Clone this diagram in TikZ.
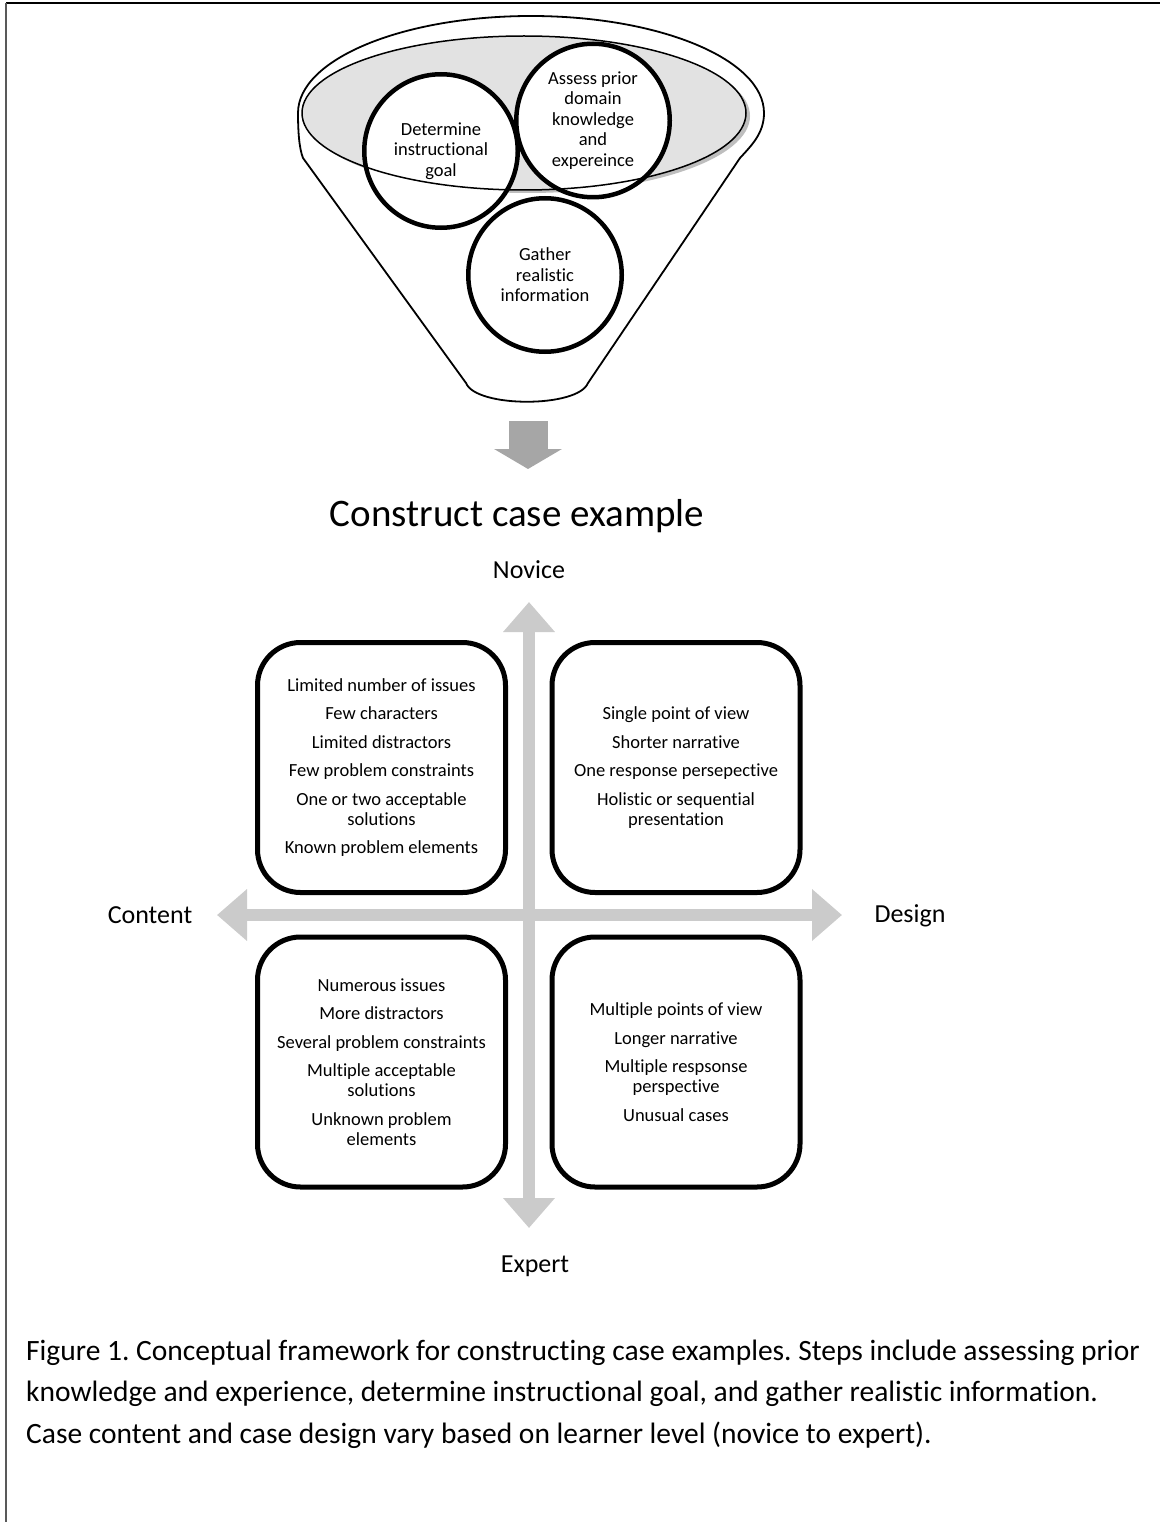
\documentclass[tikz,border=0pt]{standalone}
\usepackage{fontspec}
\setmainfont{Carlito}[Ligatures=NoCommon,Contextuals=NoAlternate]
\usetikzlibrary{arrows.meta}
\definecolor{rimgray}{HTML}{E2E2E2}
\definecolor{rimshadow}{HTML}{BEBEBE}
\definecolor{pourgray}{HTML}{A6A6A6}
\definecolor{axisgray}{HTML}{CBCBCB}
\frenchspacing
\tikzset{
  stepcircle/.style={circle,draw=black,line width=4.5pt,fill=white,minimum size=153.5pt,
    inner sep=0pt,align=center,font=\fontsize{18.5}{20.5}\selectfont},
  quadbox/.style={rectangle,rounded corners=43pt,draw=black,line width=5pt,minimum width=248pt,
    minimum height=250pt,inner sep=0pt,align=center,font=\fontsize{18.5}{20}\selectfont},
  axislabel/.style={anchor=base,inner sep=0pt,font=\fontsize{26}{30}\selectfont},
  axisarrow/.style={axisgray,line width=12pt,
    {Triangle[length=30pt 0 0,width=50pt 0 0]}-{Triangle[length=30pt 0 0,width=50pt 0 0]}},
  pourarrow/.style={pourgray,line width=39pt,-{Triangle[length=20pt 0 0,width=67pt 0 0]}}
}
\begin{document}
\begin{tikzpicture}[x=1pt,y=-1pt]
\useasboundingbox (0,0) rectangle (1160,1522);
%\draw[step=100,gray,very thin] (0,0) grid (1160,1522);
% page frame
\draw[line width=2pt] (6,3) -- (1160,3);
\draw[line width=2pt,black!65] (6,3) -- (6,1522);
% funnel
\draw[line width=1.8pt,fill=white] (298,113) .. controls (298,59.4) and (402.3,16) .. (531,16)
  .. controls (659.7,16) and (764,59.4) .. (764,113) .. controls (764,133) and (752,145) .. (740,158)
  -- (588,383) .. controls (578,408) and (476,408) .. (466,383)
  -- (303,158) .. controls (299,148) and (298,130) .. (298,113) -- cycle;
\fill[rimshadow] (528,116) ellipse [x radius=222,y radius=77];
\fill[rimgray] (524,113) ellipse [x radius=222,y radius=77];
\node[stepcircle] (goal) at (441,151) {Determine\\instructional\\goal};
\node[stepcircle] (prior) at (593,120.5) {Assess prior\\domain\\knowledge\\and\\expereince};
\node[stepcircle] (gather) at (545,275) {Gather\\realistic\\information};
\draw[line width=1.5pt] (524,113) ellipse [x radius=222,y radius=77];
% into the case
\coordinate (funnelout) at (528,421);
\coordinate (titlein) at (528,469);
\draw[pourarrow] (funnelout) -- (titlein);
\node[anchor=base,inner sep=0pt,font=\fontsize{39}{44}\selectfont] (title) at (517,526) {Construct case example};
% axes
\node[axislabel] (novice) at (529,578) {Novice};
\node[axislabel] (expert) at (535,1272) {Expert};
\node[axislabel] (content) at (150,923) {Content};
\node[axislabel] (design) at (910,922) {Design};
\coordinate (novtip) at (529,602);
\coordinate (exptip) at (529,1228);
\coordinate (contip) at (217,915);
\coordinate (destip) at (842,915);
\draw[axisarrow] (novtip) -- (exptip);
\draw[axisarrow] (contip) -- (destip);
% quadrants
\node[quadbox] (novcontent) at (381.5,767.5) {Limited number of issues\\[8.5pt]Few characters\\[8.5pt]Limited distractors\\[8.5pt]Few problem constraints\\[8.5pt]One or two acceptable\\solutions\\[8.5pt]Known problem elements};
\node[quadbox] (novdesign) at (676,767.5) {Single point of view\\[8.5pt]Shorter narrative\\[8.5pt]One response persepective\\[8.5pt]Holistic or sequential\\presentation};
\node[quadbox] (expcontent) at (381.5,1062) {Numerous issues\\[8.5pt]More distractors\\[8.5pt]Several problem constraints\\[8.5pt]Multiple acceptable\\solutions\\[8.5pt]Unknown problem\\elements};
\node[quadbox] (expdesign) at (676,1062) {Multiple points of view\\[8.5pt]Longer narrative\\[8.5pt]Multiple respsonse\\perspective\\[8.5pt]Unusual cases};
% caption (base anchor sits on the last line)
\node[anchor=base west,inner sep=0pt,align=left,font=\fontsize{29.5}{41.5}\selectfont] (caption) at (26,1443)
  {Figure 1. Conceptual framework for constructing case examples. Steps include assessing prior\\
   knowledge and experience, determine instructional goal, and gather realistic information.\\
   Case content and case design vary based on learner level (novice to expert).};
\end{tikzpicture}
\end{document}
